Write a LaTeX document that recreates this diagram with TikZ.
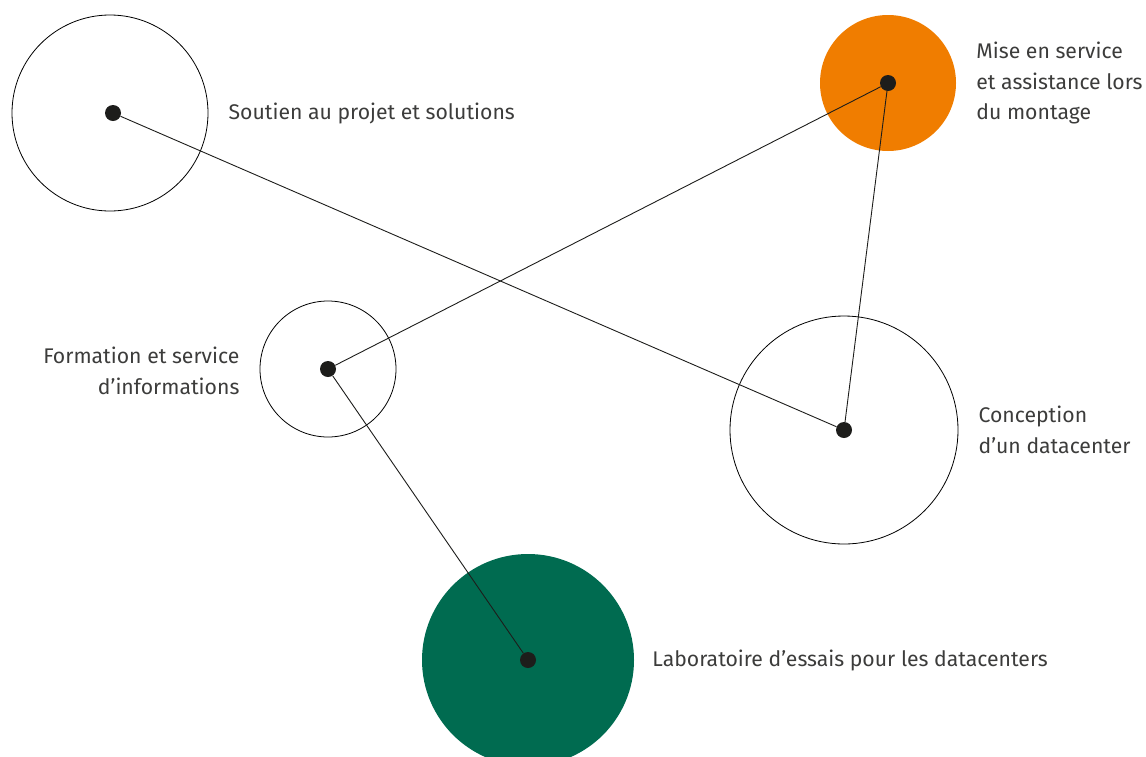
\documentclass[tikz,border=0pt]{standalone}
\usepackage{fontspec}
\setmainfont{Fira Sans}
\usetikzlibrary{positioning}
\definecolor{servorange}{HTML}{F07D00}
\definecolor{labgreen}{HTML}{006B50}
\definecolor{pingray}{HTML}{1D1D1B}
\definecolor{txtgray}{HTML}{3C3C3B}
\begin{document}
\begin{tikzpicture}[
    x=1pt, y=-1pt,
    ring/.style = {draw, circle, inner sep=0pt, line width=0.8pt},
    blob/.style = {circle, inner sep=0pt},
    pin/.style = {circle, fill=pingray, inner sep=0pt, minimum size=16pt},
    lbl/.style = {font=\fontsize{21.2}{30.5}\selectfont, text=txtgray, inner sep=0pt},
    link/.style = {line width=0.9pt, pingray},
    node distance = 20pt
  ]
    \useasboundingbox (0,0) rectangle (1146,756);

    % circles
    \node[ring, minimum size=196pt] (soutien) at (110,113) {};
    \node[blob, fill=servorange, minimum size=136pt] (mise) at (888,83) {};
    \node[ring, minimum size=136pt] (formation) at (328,369) {};
    \node[ring, minimum size=228pt] (conception) at (844,430) {};
    \node[blob, fill=labgreen, minimum size=212pt] (labo) at (528,660) {};

    % labels
    \node[lbl, anchor=west, align=left, right=of soutien] (t-soutien) {Soutien au projet et solutions};
    \node[lbl, anchor=west, align=left, right=of mise] (t-mise) {Mise en service\\et assistance lors\\du montage};
    \node[lbl, anchor=east, align=right, left=of formation, yshift=-2pt] (t-formation) {Formation et service\\d’informations};
    \node[lbl, anchor=west, align=left, right=of conception] (t-conception) {Conception\\d’un datacenter};
    \node[lbl, anchor=west, align=left, right=18pt of labo] (t-labo) {Laboratoire d’essais pour les datacenters};

    % pins
    \node[pin] (p1) at (113,113) {};
    \node[pin] (p2) at (888,83) {};
    \node[pin] (p3) at (328,369) {};
    \node[pin] (p4) at (844,430) {};
    \node[pin] (p5) at (528,660) {};

    % links
    \draw[link] (p1) -- (p4);
    \draw[link] (p2) -- (p3);
    \draw[link] (p2) -- (p4);
    \draw[link] (p3) -- (p5);
\end{tikzpicture}
\end{document}
